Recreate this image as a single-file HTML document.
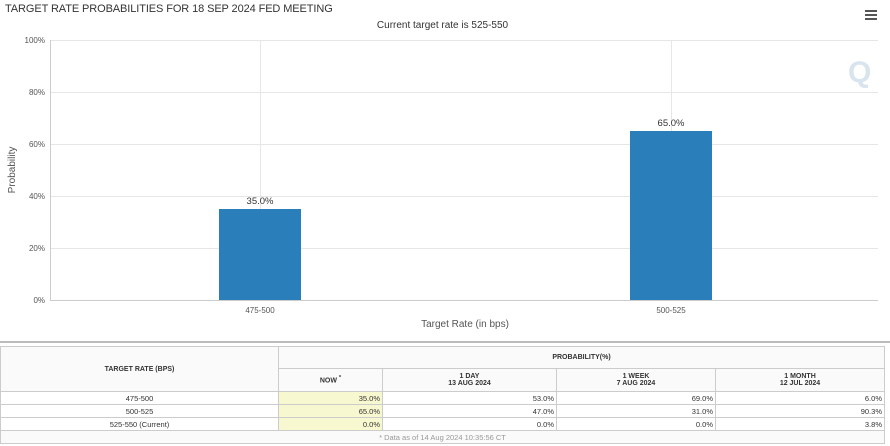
<!DOCTYPE html><html><head><style>
body{margin:0;width:890px;height:446px;overflow:hidden;background:#fff;font-family:"Liberation Sans",sans-serif;position:relative}
.a{position:absolute}
table{position:absolute;left:0;top:346px;width:885px;border-collapse:collapse;font-size:7.5px;color:#333}
td{border:1px solid #ccc;padding:0 2px;height:12px}
th{border:1px solid #ccc;font-weight:bold;font-size:7px;background:#fafafa}
.r{text-align:right}.c{text-align:center}.y{background:#f8f8d0}
</style></head><body>
<div class="a" style="left:5px;top:3px;font-size:11px;color:#333;letter-spacing:-0.1px">TARGET RATE PROBABILITIES FOR 18 SEP 2024 FED MEETING</div>
<div class="a" style="left:0;width:885px;top:20px;text-align:center;font-size:10px;color:#333">Current target rate is 525-550</div>
<div class="a" style="left:865px;top:10px;width:12px;height:2px;background:#555;box-shadow:0 4px 0 #555,0 8px 0 #555"></div>
<svg class="a" style="left:0;top:0" width="890" height="340" font-family="Liberation Sans" font-size="8" fill="#555">
<g stroke="#e6e6e6"><line x1="50" x2="878" y1="40.5" y2="40.5"/><line x1="50" x2="878" y1="92.5" y2="92.5"/><line x1="50" x2="878" y1="144.5" y2="144.5"/><line x1="50" x2="878" y1="196.5" y2="196.5"/><line x1="50" x2="878" y1="248.5" y2="248.5"/><line x1="260.5" x2="260.5" y1="40" y2="300"/><line x1="671.5" x2="671.5" y1="40" y2="300"/></g>
<line x1="50.5" x2="50.5" y1="40" y2="300" stroke="#ccc"/>
<line x1="50" x2="878" y1="300.5" y2="300.5" stroke="#ccc"/>
<g text-anchor="end"><text x="45" y="43">100%</text><text x="45" y="95">80%</text><text x="45" y="147">60%</text><text x="45" y="199">40%</text><text x="45" y="251">20%</text><text x="45" y="303">0%</text></g>
<rect x="219" y="209" width="82" height="91" fill="#2a7fba"/>
<rect x="630" y="131" width="82" height="169" fill="#2a7fba"/>
<g text-anchor="middle" font-size="9.5" fill="#333"><text x="260" y="204">35.0%</text><text x="671" y="126">65.0%</text></g>
<g text-anchor="middle"><text x="260" y="313">475-500</text><text x="671" y="313">500-525</text></g>
<text x="465" y="327" text-anchor="middle" font-size="10">Target Rate (in bps)</text>
<text transform="translate(15,170) rotate(-90)" text-anchor="middle" font-size="10">Probability</text>
<text x="848" y="82" font-size="30" font-weight="bold" fill="#d8e4ee">Q</text>
</svg>
<div class="a" style="left:0;top:341px;width:890px;border-top:2px solid #bbb"></div>
<table>
<tr style="height:22px"><th rowspan="2" style="width:275px">TARGET RATE (BPS)</th><th colspan="4">PROBABILITY(%)</th></tr>
<tr style="height:23px"><th style="width:101px">NOW <sup>*</sup></th><th style="width:171px">1 DAY<br>13 AUG 2024</th><th style="width:156px">1 WEEK<br>7 AUG 2024</th><th>1 MONTH<br>12 JUL 2024</th></tr>
<tr><td class="c">475-500</td><td class="r y">35.0%</td><td class="r">53.0%</td><td class="r">69.0%</td><td class="r">6.0%</td></tr>
<tr><td class="c">500-525</td><td class="r y">65.0%</td><td class="r">47.0%</td><td class="r">31.0%</td><td class="r">90.3%</td></tr>
<tr><td class="c">525-550 (Current)</td><td class="r y">0.0%</td><td class="r">0.0%</td><td class="r">0.0%</td><td class="r">3.8%</td></tr>
<tr><td colspan="5" class="c" style="color:#999;background:#fafafa">* Data as of 14 Aug 2024 10:35:56 CT</td></tr>
</table>
</body></html>
